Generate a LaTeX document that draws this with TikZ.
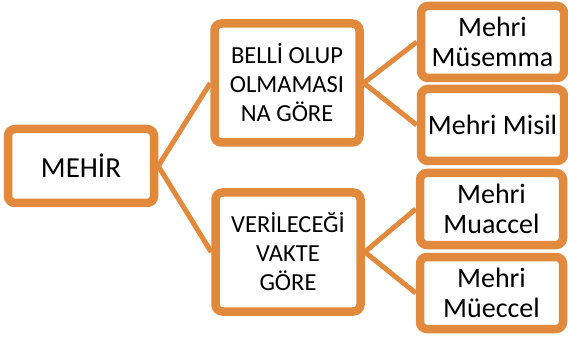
\documentclass[tikz,border=0pt]{standalone}
\usepackage{fontspec}
\setmainfont{Carlito}
\usetikzlibrary{positioning, shadows}

\definecolor{mehirorange}{RGB}{225,137,61}

\begin{document}
\begin{tikzpicture}[x=1pt, y=1pt,
    box/.style={rectangle, draw=mehirorange, line width=8.5pt, fill=white,
        rounded corners=7pt, align=center, text=black, inner sep=1pt,
        drop shadow={shadow xshift=1pt, shadow yshift=-3pt, opacity=0.35, fill=gray}},
    root/.style={box, minimum width=146pt, minimum height=74pt, font=\fontsize{29}{34}\selectfont},
    mid/.style={box, minimum width=145pt, minimum height=119pt, font=\fontsize{24.5}{29}\selectfont},
    leaf/.style={box, minimum width=143pt, minimum height=72pt, font=\fontsize{28}{30}\selectfont},
    link/.style={draw=mehirorange, line width=5pt}]
            \useasboundingbox (0,0) rectangle (568,-342);

            \node[root] (mehir) at (81,-166) {MEHİR};
            \node[mid, right=52pt of mehir, yshift=83pt] (belli) {BELLİ OLUP\\OLMAMASI\\NA GÖRE};
            \node[mid, right=53pt of mehir, yshift=-86pt] (veri) {VERİLECEĞİ\\VAKTE\\GÖRE};
            \node[leaf, right=53pt of belli, yshift=41pt] (musemma) {Mehri\\Müsemma};
            \node[leaf, right=53pt of belli, yshift=-42pt] (misil) {Mehri Misil};
            \node[leaf, right=51pt of veri, yshift=43pt] (muaccel) {Mehri\\Muaccel};
            \node[leaf, right=51pt of veri, yshift=-41pt] (mueccel) {Mehri\\Müeccel};

            \draw[link]
            (mehir.east) edge (belli.west)
            (mehir.east) edge (veri.west)
            (belli.east) edge (musemma.west)
            (belli.east) edge (misil.west)
            (veri.east) edge (muaccel.west)
            (veri.east) edge (mueccel.west);
        \end{tikzpicture}
\end{document}
